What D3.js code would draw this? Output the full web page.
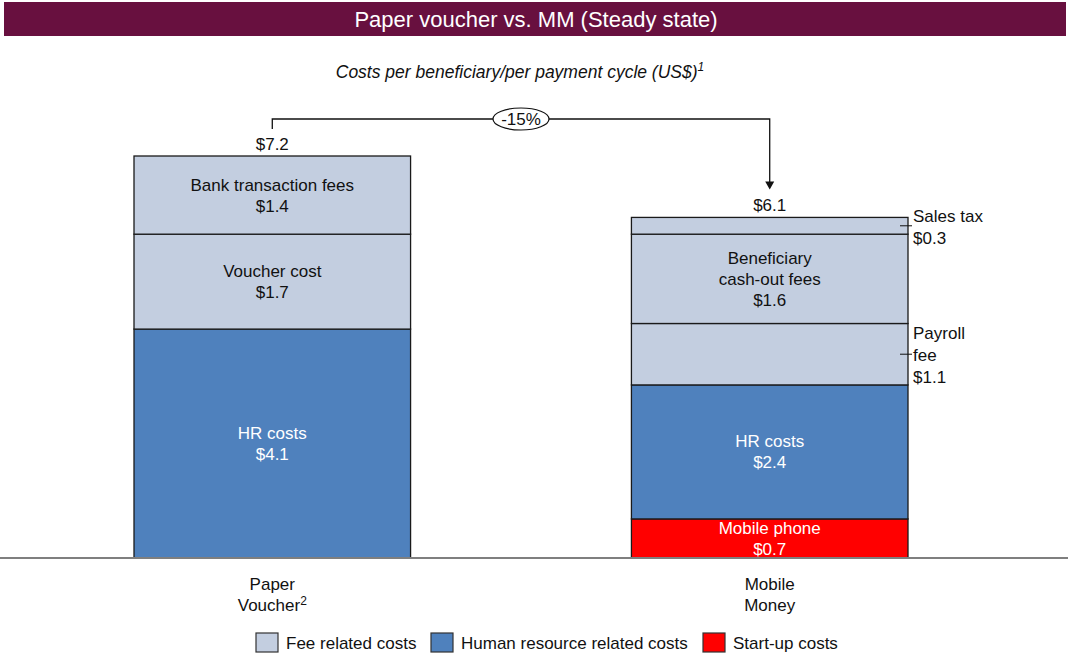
<!DOCTYPE html>
<html>
<head>
<meta charset="utf-8">
<script src="https://cdn.jsdelivr.net/npm/d3@7"></script>
<style>
  body { margin: 0; background: #fff; }
  text { font-family: "Liberation Sans", Arial, sans-serif; }
</style>
</head>
<body>
<div id="GraphHolder"></div>
<script>
// chart data
var categories = ["Paper Voucher", "Mobile Money"];
var totals = [7.2, 6.1];
var changeLabel = "-15%";

var paperSegments = ["HR costs", "Voucher cost", "Bank transaction fees"];
var paperValues = [4.1, 1.7, 1.4];
var paperTypes = ["hr", "fee", "fee"];

var mobileSegments = ["Mobile phone", "HR costs", "Payroll fee", "Beneficiary cash-out fees", "Sales tax"];
var mobileValues = [0.7, 2.4, 1.1, 1.6, 0.3];
var mobileTypes = ["startup", "hr", "fee", "fee", "fee"];

var legendKeys = ["fee", "hr", "startup"];
var legendLabels = ["Fee related costs", "Human resource related costs", "Start-up costs"];

// label lines per segment (how the original wraps them)
var paperLines = [["HR costs"], ["Voucher cost"], ["Bank transaction fees"]];
var mobileLines = [["Mobile phone"], ["HR costs"], ["Payroll", "fee"], ["Beneficiary", "cash-out fees"], ["Sales tax"]];
var mobileOutside = [false, false, true, false, true];

var colors = {fee: "#c3cee0", hr: "#4f81bd", startup: "#ff0000"};
var textColors = {fee: "#111", hr: "#fff", startup: "#fff"};

var W = 1068, H = 661;
var fs = "17px";
var svg = d3.select("#GraphHolder").append("svg")
    .attr("width", W)
    .attr("height", H);

// title bar
svg.append("rect")
    .attr("x", 4).attr("y", 2)
    .attr("width", 1062).attr("height", 34)
    .attr("fill", "#68103f");
svg.append("text")
    .attr("x", 536).attr("y", 27)
    .attr("text-anchor", "middle")
    .attr("fill", "#fff")
    .style("font-size", "22px")
    .text("Paper voucher vs. MM (Steady state)");

// subtitle
var sub = svg.append("text")
    .attr("x", 520).attr("y", 78)
    .attr("text-anchor", "middle")
    .style("font-size", "17.5px")
    .style("font-style", "italic")
    .attr("fill", "#111")
    .text("Costs per beneficiary/per payment cycle (US$)");
sub.append("tspan")
    .attr("dy", -7)
    .style("font-size", "12px")
    .text("1");

// scales
var x = d3.scaleBand()
    .domain(categories)
    .range([134, 908])
    .paddingInner(0.444)
    .paddingOuter(0);
var y = d3.scaleLinear()
    .domain([0, 7.2])
    .range([558, 156]);

function buildStack(names, values, types, lines, outside) {
    var acc = 0;
    return values.map(function(v, i) {
        var d = {name: names[i], value: v, type: types[i], lines: lines[i],
                 outside: outside ? outside[i] : false, y0: acc, y1: acc + v};
        acc += v;
        return d;
    });
}

var stacks = [
    buildStack(paperSegments, paperValues, paperTypes, paperLines, null),
    buildStack(mobileSegments, mobileValues, mobileTypes, mobileLines, mobileOutside)
];

var lh = 21;

stacks.forEach(function(stack, bi) {
    var cat = categories[bi];
    var x0 = x(cat), bw = x.bandwidth();
    var g = svg.append("g").attr("class", "bar-group");

    g.selectAll(".bar")
        .data(stack)
        .enter().append("rect")
        .attr("class", "bar")
        .attr("x", x0)
        .attr("width", bw)
        .attr("y", function(d) { return y(d.y1); })
        .attr("height", function(d) { return y(d.y0) - y(d.y1); })
        .style("fill", function(d) { return colors[d.type]; })
        .style("stroke", "#1a1a1a")
        .style("stroke-width", 1.3);

    stack.forEach(function(d) {
        var cy = (y(d.y0) + y(d.y1)) / 2;
        var allLines = d.lines.concat(["$" + d.value.toFixed(1)]);
        var n = allLines.length;
        if (!d.outside) {
            var t = g.append("text")
                .attr("text-anchor", "middle")
                .attr("fill", textColors[d.type])
                .style("font-size", fs);
            allLines.forEach(function(l, i) {
                t.append("tspan")
                    .attr("x", x0 + bw / 2)
                    .attr("y", cy + (i - (n - 1) / 2) * lh + 6)
                    .text(l);
            });
        } else {
            var lh2 = 22;
            g.append("line")
                .attr("x1", x0 + bw - 8).attr("x2", x0 + bw + 4)
                .attr("y1", cy).attr("y2", cy)
                .style("stroke", "#111").style("stroke-width", 1);
            var t2 = g.append("text")
                .attr("text-anchor", "start")
                .attr("fill", "#111")
                .style("font-size", fs);
            allLines.forEach(function(l, i) {
                t2.append("tspan")
                    .attr("x", x0 + bw + 5)
                    .attr("y", cy + (i - (n - 1) / 2) * lh2 + 7)
                    .text(l);
            });
        }
    });

    // total label
    svg.append("text")
        .attr("x", x0 + bw / 2)
        .attr("y", y(totals[bi]) - 6)
        .attr("text-anchor", "middle")
        .style("font-size", fs)
        .attr("fill", "#111")
        .text("$" + totals[bi].toFixed(1));
});

// baseline
svg.append("line")
    .attr("x1", 0).attr("x2", W)
    .attr("y1", y(0)).attr("y2", y(0))
    .style("stroke", "#7f7f7f")
    .style("stroke-width", 2);

// x labels
var xLabelLines = [["Paper", "Voucher"], ["Mobile", "Money"]];
categories.forEach(function(c, i) {
    var cx = x(c) + x.bandwidth() / 2;
    var t = svg.append("text")
        .attr("text-anchor", "middle")
        .style("font-size", fs)
        .attr("fill", "#111");
    t.append("tspan").attr("x", cx).attr("y", 590).text(xLabelLines[i][0]);
    t.append("tspan").attr("x", cx).attr("y", 611).text(xLabelLines[i][1]);
    if (i === 0) {
        t.append("tspan").attr("dy", -6).style("font-size", "12px").text("2");
    }
});

// bracket with change
var cx1 = x(categories[0]) + x.bandwidth() / 2;
var cx2 = x(categories[1]) + x.bandwidth() / 2;
var by = 119;
svg.append("path")
    .attr("d", "M" + cx1 + "," + (y(totals[0]) - 27) + "V" + by + "H" + cx2 + "V" + (y(totals[1]) - 30))
    .style("fill", "none")
    .style("stroke", "#111")
    .style("stroke-width", 1.3);
var ay = y(totals[1]) - 28;
svg.append("path")
    .attr("d", "M" + (cx2 - 4.5) + "," + (ay - 8) + "L" + (cx2 + 4.5) + "," + (ay - 8) + "L" + cx2 + "," + ay + "Z")
    .style("fill", "#111");
var mx = (cx1 + cx2) / 2;
svg.append("ellipse")
    .attr("cx", mx).attr("cy", by)
    .attr("rx", 28).attr("ry", 11)
    .style("fill", "#fff")
    .style("stroke", "#111")
    .style("stroke-width", 1.2);
svg.append("text")
    .attr("x", mx).attr("y", by + 6)
    .attr("text-anchor", "middle")
    .style("font-size", fs)
    .attr("fill", "#111")
    .text(changeLabel);

// legend
var legendX = [256, 431, 703];
legendKeys.forEach(function(k, i) {
    svg.append("rect")
        .attr("x", legendX[i]).attr("y", 633)
        .attr("width", 22).attr("height", 19)
        .style("fill", colors[k])
        .style("stroke", "#333")
        .style("stroke-width", 1.2);
    svg.append("text")
        .attr("x", legendX[i] + 30).attr("y", 649)
        .style("font-size", fs)
        .attr("fill", "#111")
        .text(legendLabels[i]);
});
</script>
</body>
</html>
